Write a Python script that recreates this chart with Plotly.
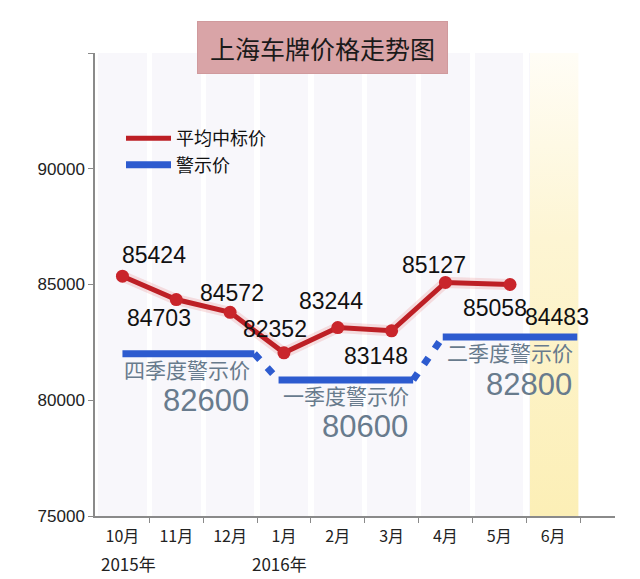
import plotly.graph_objects as go

# months on the x axis (index positions) and the year notes under them
months = ['10月', '11月', '12月', '1月', '2月', '3月', '4月', '5月', '6月']
years = ['2015年', '2016年']
year_month = [0, 3]

# average winning price: where the points sit, and the printed labels
price_x = [0, 1, 2, 3, 4, 5, 6, 7.2]
price_y = [85360, 84350, 83800, 82050, 83140, 83000, 85090, 85000]
price_labels = ['85424', '84703', '84572', '82352', '83244', '83148', '85127', '85058', '84483']
price_label_x = [0, 1, 2, 3, 4, 5, 6, 7.2, 8]
price_label_y = [85360, 84350, 83800, 82050, 83140, 83000, 85090, 85000, 84483]

# warning price per quarter
quarter_names = ['四季度警示价', '一季度警示价', '二季度警示价']
quarter_labels = ['82600', '80600', '82800']
quarter_y = [82010, 80880, 82730]
quarter_start = [0, 2.9, 5.95]
quarter_end = [2.45, 5.4, 8.45]

RED = '#bd1f25'
BLUE = '#2d5bcf'
GREY_BLUE = '#687b8d'
NUM_FONT = 'Liberation Sans, Arial, sans-serif'
CJK_FONT = 'Noto Sans CJK SC, sans-serif'

fig = go.Figure()

# faint column bands behind the chart
fig.add_trace(go.Bar(
    x=list(range(len(months))), y=[20000] * len(months), base=75000,
    width=0.9, marker=dict(color='#f8f7fb', line=dict(width=0)),
    showlegend=False, hoverinfo='skip'))

# yellow highlight for June
fig.add_trace(go.Scatter(
    x=[7.57, 8.47, 8.47, 7.57, 7.57], y=[75000, 75000, 95000, 95000, 75000],
    mode='lines', line=dict(width=0), fill='toself',
    fillgradient=dict(type='vertical',
                      colorscale=[[0, '#fcefb6'], [0.6, '#fdf5d3'], [1, '#fffdf6']]),
    showlegend=False, hoverinfo='skip'))

# red line first so it is first in the legend
fig.add_trace(go.Scatter(
    x=price_x, y=price_y, mode='lines',
    line=dict(color='rgba(220,60,60,0.15)', width=11),
    showlegend=False, hoverinfo='skip'))
fig.add_trace(go.Scatter(
    x=price_x, y=price_y, mode='lines', name='平均中标价',
    line=dict(color=RED, width=5), hoverinfo='skip'))

# warning price segments
for i in range(len(quarter_names)):
    fig.add_trace(go.Scatter(
        x=[quarter_start[i], quarter_end[i]], y=[quarter_y[i], quarter_y[i]],
        mode='lines', line=dict(color=BLUE, width=7),
        name='警示价', legendgroup='warn', showlegend=(i == 0), hoverinfo='skip'))
    if i + 1 < len(quarter_names):
        fig.add_trace(go.Scatter(
            x=[quarter_end[i], quarter_start[i + 1]], y=[quarter_y[i], quarter_y[i + 1]],
            mode='lines', line=dict(color=BLUE, width=7, dash='8px,11px'),
            legendgroup='warn', showlegend=False, hoverinfo='skip'))

# red points on top
fig.add_trace(go.Scatter(
    x=price_x, y=price_y, mode='markers',
    marker=dict(color='#c9252b', size=13), showlegend=False))

# number labels around the red points
label_shift = [(32, 21), (-17, -18), (2, 19), (-9, 24), (-7, 27),
               (-16, -25), (-11, 17), (-15, -23), (4, -21)]
for i, txt in enumerate(price_labels):
    fig.add_annotation(
        x=price_label_x[i], y=price_label_y[i], text=txt, showarrow=False,
        xshift=label_shift[i][0], yshift=label_shift[i][1],
        font=dict(family=NUM_FONT, size=23, color='#111111'))

# quarter names and warning values
for i in range(len(quarter_names)):
    fig.add_annotation(
        x=quarter_end[i], y=quarter_y[i], text=quarter_names[i], showarrow=False,
        xanchor='right', xshift=-2, yshift=-15,
        font=dict(family=CJK_FONT, size=21, color=GREY_BLUE))
    fig.add_annotation(
        x=quarter_end[i], y=quarter_y[i], text=quarter_labels[i], showarrow=False,
        xanchor='right', xshift=-3, yshift=-47,
        font=dict(family=NUM_FONT, size=31, color=GREY_BLUE))

# year notes under the month ticks
for name, m in zip(years, year_month):
    fig.add_annotation(
        x=m, y=0, yref='paper', text=name, showarrow=False,
        yanchor='top', yshift=-33, xshift=6 if m == 0 else -4,
        font=dict(family=CJK_FONT, size=17, color='#222222'))

# title in a pink box
fig.add_annotation(
    x=0.4375, y=1.012, xref='paper', yref='paper', text='上海车牌价格走势图',
    xanchor='center', yanchor='middle',
    showarrow=False, width=247, height=49, bgcolor='#d9a4a7',
    bordercolor='#d09a9d', borderwidth=1,
    font=dict(family=CJK_FONT, size=25, color='#1a1a1a'))

# the page puts the figure 8px in from the top-left, so margins allow for it
fig.update_layout(
    width=640, height=579,
    margin=dict(l=87, r=33, t=45, b=71),
    paper_bgcolor='white', plot_bgcolor='white',
    bargap=0, barmode='overlay',
    showlegend=True,
    legend=dict(x=0.05, y=0.855, xanchor='left', yanchor='top',
                bgcolor='rgba(0,0,0,0)', itemwidth=45, tracegroupgap=0,
                font=dict(family=CJK_FONT, size=18, color='#111111')),
    xaxis=dict(range=[-0.51, 9.15], showgrid=False, zeroline=False,
               showline=True, linecolor='#8a8a8a', linewidth=1.5,
               tickvals=list(range(len(months))), ticktext=months, ticks='',
               ticklabelstandoff=5,
               tickfont=dict(family=CJK_FONT, size=16, color='#222222'),
               minor=dict(tickvals=[i + 0.5 for i in range(len(months))],
                          ticks='outside', ticklen=5, tickcolor='#8a8a8a')),
    yaxis=dict(range=[75000, 95000], showgrid=False, zeroline=False,
               showline=True, linecolor='#8a8a8a', linewidth=1.5,
               tickvals=[75000, 80000, 85000, 90000, 95000],
               ticktext=['75000', '80000', '85000', '90000', ''],
               ticks='outside', ticklen=5, tickcolor='#8a8a8a',
               tickfont=dict(family=NUM_FONT, size=17, color='#222222')),
)

fig.write_html('out.html')
